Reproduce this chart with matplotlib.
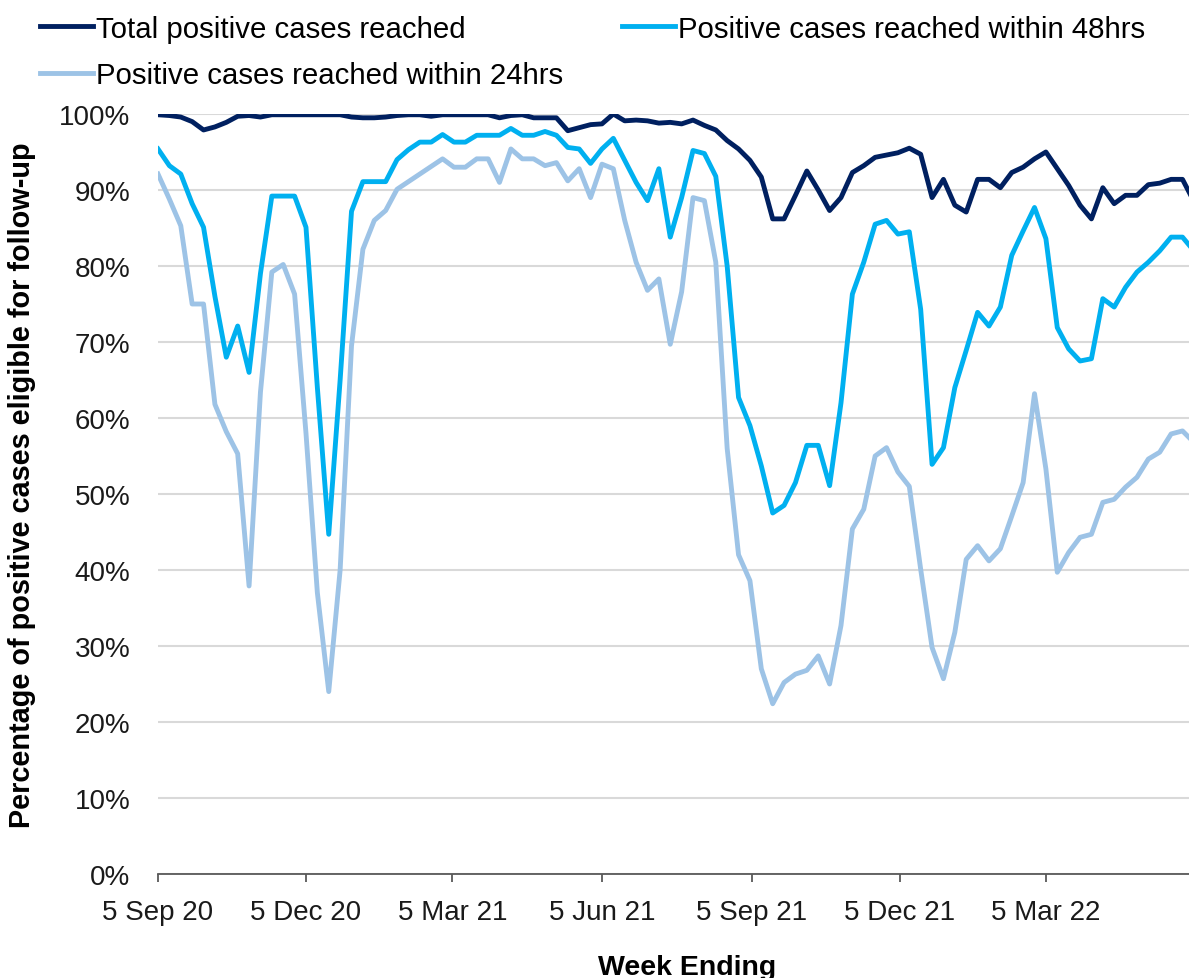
import pandas as pd
import numpy as np
import matplotlib
matplotlib.use('Agg')
import matplotlib.pyplot as plt
import matplotlib.dates as mdates

# weekly data, week ending dates
weeks = pd.date_range('2020-09-05', periods=92, freq='7D')

total_reached = [99.9, 99.8, 99.6, 99.0, 97.9, 98.3, 98.9, 99.7, 99.8, 99.6,
                 99.9, 99.9, 99.9, 99.9, 99.9, 99.9, 99.9, 99.6, 99.5, 99.5,
                 99.6, 99.8, 99.9, 99.9, 99.7, 99.9, 99.9, 99.9, 99.9, 99.9,
                 99.5, 99.8, 99.9, 99.5, 99.5, 99.5, 97.8, 98.2, 98.6, 98.7,
                 100.0, 99.1, 99.2, 99.1, 98.8, 98.9, 98.7, 99.2, 98.5, 97.9,
                 96.5, 95.4, 93.9, 91.7, 86.2, 86.2, 89.3, 92.5, 90.0, 87.3,
                 89.0, 92.3, 93.2, 94.3, 94.6, 94.9, 95.5, 94.7, 89.0, 91.4,
                 88.0, 87.1, 91.4, 91.4, 90.3, 92.3, 93.0, 94.1, 95.0, 92.8,
                 90.6, 88.0, 86.2, 90.3, 88.2, 89.3, 89.3, 90.7, 90.9, 91.4,
                 91.4, 88.5]

within_48 = [95.4, 93.2, 92.1, 88.2, 85.1, 76.0, 68.0, 72.1, 66.0, 79.0,
             89.2, 89.2, 89.2, 85.1, 64.0, 44.7, 65.0, 87.2, 91.1, 91.1,
             91.1, 94.0, 95.3, 96.3, 96.3, 97.3, 96.3, 96.3, 97.2, 97.2,
             97.2, 98.1, 97.2, 97.2, 97.7, 97.2, 95.6, 95.4, 93.5, 95.4,
             96.8, 93.9, 91.0, 88.6, 92.8, 83.8, 89.0, 95.2, 94.8, 91.8,
             80.0, 62.7, 59.0, 53.7, 47.5, 48.5, 51.5, 56.4, 56.4, 51.1,
             62.0, 76.3, 80.5, 85.5, 86.0, 84.2, 84.5, 74.3, 53.9, 56.1,
             64.0, 68.9, 73.9, 72.1, 74.6, 81.4, 84.6, 87.7, 83.6, 71.9,
             69.1, 67.5, 67.8, 75.7, 74.6, 77.2, 79.2, 80.5, 82.0, 83.8,
             83.8, 82.0]

within_24 = [92.1, 88.8, 85.3, 75.0, 75.0, 61.8, 58.2, 55.3, 37.9, 63.4,
             79.2, 80.2, 76.3, 58.0, 37.0, 24.0, 40.0, 69.5, 82.2, 86.0,
             87.3, 90.1, 91.1, 92.1, 93.1, 94.1, 93.0, 93.0, 94.1, 94.1,
             91.0, 95.4, 94.1, 94.1, 93.2, 93.6, 91.2, 92.8, 89.0, 93.4,
             92.8, 86.0, 80.5, 76.8, 78.3, 69.7, 76.6, 89.0, 88.6, 80.5,
             56.0, 42.0, 38.6, 27.0, 22.4, 25.2, 26.3, 26.8, 28.7, 25.0,
             32.7, 45.4, 48.0, 55.0, 56.1, 52.9, 51.0, 40.1, 29.8, 25.7,
             31.8, 41.4, 43.2, 41.2, 42.8, 47.1, 51.5, 63.2, 53.3, 39.7,
             42.3, 44.3, 44.7, 48.9, 49.3, 50.9, 52.2, 54.6, 55.5, 57.9,
             58.3, 56.8]

tick_dates = ['2020-09-05', '2020-12-05', '2021-03-05', '2021-06-05',
              '2021-09-05', '2021-12-05', '2022-03-05']

plt.rcParams['font.family'] = ['Liberation Sans', 'DejaVu Sans']

fig = plt.figure(figsize=(11.89, 9.79), dpi=100)
ax = fig.add_axes([158/1189, 1-875/979, 1-158/1189, (875-115)/979])

l1, = ax.plot(weeks, total_reached, color='#002060', lw=3.5, label='Total positive cases reached')
l2, = ax.plot(weeks, within_48, color='#00B0F0', lw=3.5, label='Positive cases reached within 48hrs')
l3, = ax.plot(weeks, within_24, color='#9DC3E6', lw=3.5, label='Positive cases reached within 24hrs')

ax.set_ylim(0, 100)
ax.set_yticks(np.arange(0, 101, 10))
ax.set_yticklabels([str(v) + '%' for v in range(0, 101, 10)])
ax.yaxis.grid(True, color='#d9d9d9', lw=1.5)
ax.set_axisbelow(True)

ax.set_xlim(pd.Timestamp('2020-09-05'), pd.Timestamp('2022-06-01'))
ax.set_xticks(pd.to_datetime(tick_dates))
ax.xaxis.set_major_formatter(mdates.DateFormatter('%-d %b %y'))

for s in ['top', 'right', 'left']:
    ax.spines[s].set_visible(False)
ax.spines['bottom'].set_color('#595959')
ax.spines['bottom'].set_linewidth(1.3)

ax.tick_params(axis='y', length=0, pad=20, labelsize=20, labelcolor='#1a1a1a')
ax.tick_params(axis='x', length=6, width=1.3, color='#595959', pad=12, labelsize=20, labelcolor='#1a1a1a')

fig.text(22/1189, 1-485/979, 'Percentage of positive cases eligible for follow-up',
         rotation=90, ha='center', va='center', fontsize=20.8, fontweight='bold')
fig.text(687/1189, 1-968/979, 'Week Ending', ha='center', va='center',
         fontsize=20.5, fontweight='bold')

fig.legend(handles=[l1, l3, l2], ncol=2, loc='upper left', bbox_to_anchor=(40/1189, 0.984),
           frameon=False, fontsize=21.2, handlelength=1.8, handletextpad=0.1,
           columnspacing=2.0, labelspacing=0.63, borderpad=0, borderaxespad=0)

fig.savefig('out.png', dpi=100)
